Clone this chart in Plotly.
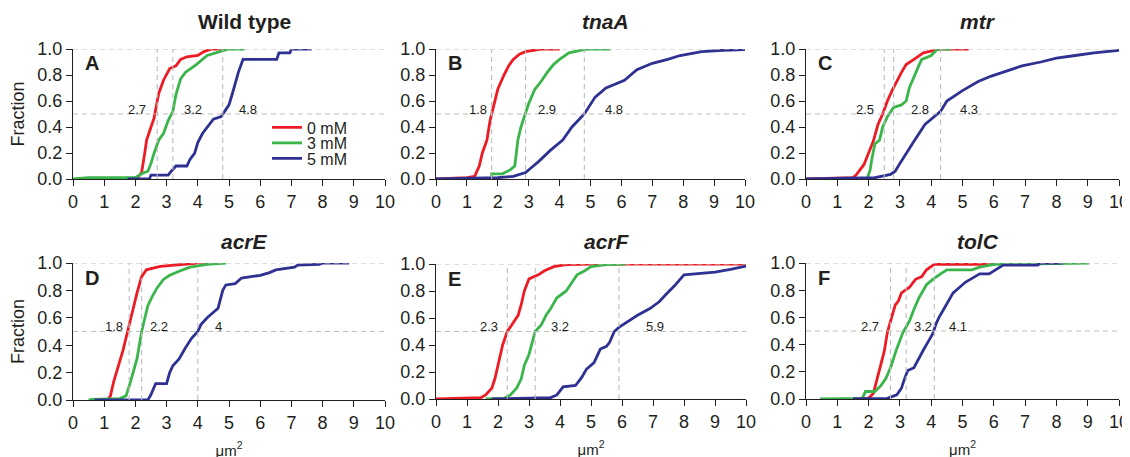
import plotly.graph_objects as go

# ---------------- data ----------------
panel_titles = ["Wild type", "<i>tnaA</i>", "<i>mtr</i>", "<i>acrE</i>", "<i>acrF</i>", "<i>tolC</i>"]
panel_letters = ["A", "B", "C", "D", "E", "F"]
series_names = ["0 mM", "3 mM", "5 mM"]
x_ticks = [0, 1, 2, 3, 4, 5, 6, 7, 8, 9, 10]
y_ticks = [0.0, 0.2, 0.4, 0.6, 0.8, 1.0]

# Panel A: Wild type
a_0_x = [1.1, 1.9, 2.1, 2.2, 2.3, 2.36, 2.5, 2.6, 2.7, 2.75, 2.9, 3.05, 3.1, 3.3, 3.45, 3.65, 4.0, 4.2, 4.45, 4.8]
a_0_y = [0, 0, 0.02, 0.05, 0.2, 0.3, 0.4, 0.47, 0.6, 0.66, 0.76, 0.82, 0.85, 0.87, 0.92, 0.94, 0.95, 0.98, 1.0, 1.0]
a_3_x = [0, 0.5, 2.0, 2.2, 2.4, 2.5, 2.6, 2.75, 2.9, 3.05, 3.2, 3.3, 3.45, 3.6, 3.95, 4.3, 4.7, 5.0, 5.5]
a_3_y = [0, 0.01, 0.01, 0.04, 0.06, 0.12, 0.2, 0.3, 0.35, 0.45, 0.52, 0.65, 0.77, 0.82, 0.88, 0.95, 0.98, 1.0, 1.0]
a_5_x = [1.75, 2.45, 2.5, 3.05, 3.15, 3.3, 3.65, 3.75, 3.9, 4.0, 4.15, 4.3, 4.5, 4.75, 4.85, 5.0, 5.1, 5.2, 5.3, 5.45, 6.53, 6.6, 6.95, 7.0, 7.65]
a_5_y = [0, 0, 0.03, 0.03, 0.06, 0.1, 0.1, 0.15, 0.2, 0.28, 0.35, 0.4, 0.46, 0.48, 0.52, 0.57, 0.65, 0.74, 0.82, 0.92, 0.92, 0.97, 0.97, 1.0, 1.0]

# Panel B: tnaA
b_0_x = [0, 1.0, 1.25, 1.4, 1.5, 1.65, 1.75, 1.8, 1.9, 2.0, 2.2, 2.35, 2.5, 2.7, 2.9, 3.4, 4.0]
b_0_y = [0, 0.01, 0.02, 0.1, 0.2, 0.3, 0.45, 0.5, 0.6, 0.69, 0.8, 0.87, 0.92, 0.96, 0.98, 1.0, 1.0]
b_3_x = [1.8, 1.8, 2.15, 2.4, 2.55, 2.6, 2.65, 2.75, 2.9, 3.0, 3.2, 3.4, 3.6, 3.8, 4.0, 4.3, 4.9, 5.65]
b_3_y = [0.02, 0.04, 0.04, 0.07, 0.1, 0.2, 0.3, 0.4, 0.5, 0.58, 0.69, 0.75, 0.82, 0.88, 0.92, 0.97, 1.0, 1.0]
b_5_x = [0, 2.0, 2.5, 2.9, 3.1, 3.3, 3.7, 4.1, 4.4, 4.8, 5.15, 5.5, 6.1, 6.5, 7.0, 7.5, 7.9, 8.6, 9.3, 10]
b_5_y = [0, 0.01, 0.02, 0.05, 0.09, 0.13, 0.22, 0.3, 0.4, 0.5, 0.63, 0.7, 0.76, 0.84, 0.89, 0.92, 0.95, 0.98, 0.99, 0.995]

# Panel C: mtr
c_0_x = [0, 1.0, 1.5, 1.6, 1.85, 2.0, 2.15, 2.3, 2.45, 2.6, 2.75, 3.05, 3.2, 3.45, 3.75, 4.3, 5.2]
c_0_y = [0, 0.005, 0.01, 0.03, 0.11, 0.2, 0.29, 0.42, 0.5, 0.6, 0.68, 0.82, 0.88, 0.92, 0.97, 1.0, 1.0]
c_3_x = [1.95, 2.0, 2.05, 2.1, 2.2, 2.35, 2.45, 2.6, 2.8, 3.05, 3.2, 3.3, 3.5, 3.6, 3.7, 4.0, 4.2, 4.6]
c_3_y = [0, 0.03, 0.07, 0.15, 0.27, 0.3, 0.4, 0.48, 0.55, 0.57, 0.6, 0.7, 0.82, 0.87, 0.92, 0.95, 1.0, 1.0]
c_5_x = [0, 1.5, 2.2, 2.7, 2.85, 3.0, 3.2, 3.45, 3.8, 4.3, 4.5, 5.0, 5.5, 5.9, 6.4, 6.9, 7.5, 8.0, 8.6, 9.2, 10]
c_5_y = [0, 0.005, 0.01, 0.035, 0.06, 0.12, 0.2, 0.29, 0.42, 0.52, 0.6, 0.68, 0.75, 0.79, 0.83, 0.87, 0.9, 0.93, 0.95, 0.97, 0.99]

# Panel D: acrE
d_0_x = [1.1, 1.2, 1.3, 1.45, 1.6, 1.75, 1.9, 2.05, 2.2, 2.35, 2.8, 3.4, 4.0, 4.3]
d_0_y = [0, 0.03, 0.13, 0.25, 0.36, 0.5, 0.65, 0.78, 0.9, 0.95, 0.975, 0.99, 1.0, 1.0]
d_3_x = [0.5, 0.6, 1.5, 1.7, 1.8, 1.9, 2.05, 2.2, 2.3, 2.4, 2.55, 2.7, 2.9, 3.1, 3.4, 3.75, 4.3, 4.9]
d_3_y = [0, 0.005, 0.01, 0.03, 0.1, 0.18, 0.3, 0.5, 0.6, 0.69, 0.76, 0.82, 0.88, 0.91, 0.94, 0.97, 0.99, 1.0]
d_5_x = [0.7, 2.4, 2.5, 2.6, 2.65, 3.0, 3.1, 3.2, 3.4, 3.6, 3.8, 4.0, 4.1, 4.3, 4.5, 4.65, 4.8, 4.9, 5.2, 5.4, 6.0, 6.3, 6.5, 6.8, 7.1, 7.2, 7.9, 8.0, 8.85]
d_5_y = [0, 0, 0.04, 0.1, 0.12, 0.12, 0.2, 0.25, 0.3, 0.38, 0.45, 0.5, 0.55, 0.6, 0.64, 0.67, 0.8, 0.84, 0.85, 0.89, 0.91, 0.93, 0.95, 0.96, 0.97, 0.985, 0.99, 1.0, 1.0]

# Panel E: acrF
e_0_x = [0, 1.0, 1.45, 1.6, 1.8, 1.9, 2.0, 2.15, 2.3, 2.5, 2.65, 2.75, 2.85, 3.0, 3.3, 3.5, 3.8, 4.2, 5.0, 10]
e_0_y = [0, 0.005, 0.01, 0.03, 0.08, 0.15, 0.25, 0.4, 0.5, 0.57, 0.62, 0.7, 0.8, 0.89, 0.92, 0.95, 0.98, 0.995, 1.0, 1.0]
e_3_x = [1.6, 2.2, 2.4, 2.6, 2.75, 2.85, 3.0, 3.1, 3.2, 3.4, 3.55, 3.7, 3.9, 4.2, 4.4, 4.55, 4.8, 5.0, 5.5, 6.1]
e_3_y = [0, 0.005, 0.03, 0.08, 0.15, 0.25, 0.33, 0.42, 0.5, 0.55, 0.62, 0.67, 0.75, 0.8, 0.87, 0.92, 0.95, 0.98, 0.995, 1.0]
e_5_x = [1.8, 3.1, 3.7, 3.9, 4.1, 4.5, 4.7, 4.85, 5.1, 5.3, 5.5, 5.6, 5.75, 5.9, 6.15, 6.5, 6.9, 7.2, 7.4, 7.7, 8.0, 8.5, 9.0, 9.5, 10]
e_5_y = [0, 0.005, 0.01, 0.03, 0.09, 0.1, 0.16, 0.22, 0.27, 0.37, 0.39, 0.42, 0.5, 0.53, 0.57, 0.62, 0.67, 0.72, 0.77, 0.84, 0.92, 0.93, 0.94, 0.96, 0.985]

# Panel F: tolC
f_0_x = [1.5, 2.0, 2.15, 2.25, 2.4, 2.5, 2.6, 2.7, 2.85, 2.95, 3.05, 3.3, 3.5, 3.7, 3.85, 4.1, 6.0, 6.1, 6.7]
f_0_y = [0, 0.005, 0.04, 0.13, 0.25, 0.35, 0.49, 0.57, 0.69, 0.72, 0.78, 0.82, 0.88, 0.9, 0.95, 0.99, 0.99, 1.0, 1.0]
f_3_x = [0.45, 1.8, 1.9, 2.2, 2.4, 2.55, 2.7, 2.9, 3.1, 3.3, 3.45, 3.6, 3.85, 4.05, 4.3, 4.5, 5.3, 5.55, 6.0, 7.0, 8.0, 9.05]
f_3_y = [0, 0.005, 0.055, 0.055, 0.1, 0.15, 0.23, 0.37, 0.49, 0.57, 0.66, 0.74, 0.84, 0.88, 0.92, 0.95, 0.95, 0.97, 0.99, 0.995, 1.0, 1.0]
f_5_x = [1.5, 2.6, 2.9, 3.05, 3.15, 3.25, 3.45, 3.6, 3.75, 3.9, 4.05, 4.15, 4.25, 4.4, 4.5, 4.7, 4.9, 5.1, 5.4, 5.55, 5.85, 6.05, 6.3, 7.4, 7.5, 8.2]
f_5_y = [0, 0.005, 0.03, 0.08, 0.15, 0.21, 0.23, 0.3, 0.36, 0.42, 0.48, 0.55, 0.6, 0.66, 0.7, 0.78, 0.82, 0.86, 0.9, 0.92, 0.92, 0.95, 0.985, 0.985, 1.0, 1.0]

# medians (dashed reference lines + labels)
medians_a = [2.7, 3.2, 4.8]
medians_b = [1.8, 2.9, 4.8]
medians_c = [2.5, 2.8, 4.3]
medians_d = [1.8, 2.2, 4.0]
medians_e = [2.3, 3.2, 5.9]
medians_f = [2.7, 3.2, 4.1]
median_labels_a = ["2.7", "3.2", "4.8"]
median_labels_b = ["1.8", "2.9", "4.8"]
median_labels_c = ["2.5", "2.8", "4.3"]
median_labels_d = ["1.8", "2.2", "4"]
median_labels_e = ["2.3", "3.2", "5.9"]
median_labels_f = ["2.7", "3.2", "4.1"]
ref_levels = [0.5, 1.0]

panels = [
    ([(a_0_x, a_0_y), (a_3_x, a_3_y), (a_5_x, a_5_y)], medians_a, median_labels_a),
    ([(b_0_x, b_0_y), (b_3_x, b_3_y), (b_5_x, b_5_y)], medians_b, median_labels_b),
    ([(c_0_x, c_0_y), (c_3_x, c_3_y), (c_5_x, c_5_y)], medians_c, median_labels_c),
    ([(d_0_x, d_0_y), (d_3_x, d_3_y), (d_5_x, d_5_y)], medians_d, median_labels_d),
    ([(e_0_x, e_0_y), (e_3_x, e_3_y), (e_5_x, e_5_y)], medians_e, median_labels_e),
    ([(f_0_x, f_0_y), (f_3_x, f_3_y), (f_5_x, f_5_y)], medians_f, median_labels_f),
]

# ---------------- layout / style ----------------
W, H = 1130, 457
PAGE_OFF = 8  # the page body margin shifts the figure by this many px
colors = ["#ED1C24", "#39B54A", "#2E3192"]
ink = "#231F20"
dash_col = "#BDBDBD"
FONT = "Liberation Sans, Arial, sans-serif"

# on-screen pixel geometry of each panel: (x at 0, x at 10, y at 1.0, y at 0)
geom = [
    (73, 385, 49, 179), (436, 745, 49, 179), (806, 1119, 49, 179),
    (73, 385, 263, 400), (436, 746, 264, 399), (806, 1119, 263, 399),
]
# median label horizontal centres (data units)
label_x = [
    [2.05, 3.85, 5.6], [1.36, 3.6, 5.76], [1.9, 3.64, 5.2],
    [1.3, 2.75, 4.65], [1.7, 4.0, 7.05], [2.03, 3.75, 4.85],
]
title_y_px = [22, 22, 22, 241, 241, 241]


def px_x(p):
    return (p - PAGE_OFF) / W


def px_y(p):
    return 1 - (p - PAGE_OFF) / H


fig = go.Figure()
annotations = []

for i, (curves, meds, mlabels) in enumerate(panels):
    k = "" if i == 0 else str(i + 1)
    xa, ya = "x" + k, "y" + k
    x0, x10, y1, y0 = geom[i]
    # curves
    for j, (cx, cy) in enumerate(curves):
        fig.add_trace(go.Scatter(
            x=cx, y=cy, mode="lines", xaxis=xa, yaxis=ya,
            line=dict(color=colors[j], width=2.8),
            cliponaxis=False, hoverinfo="skip",
            name=series_names[j], showlegend=(i == 0),
            legend=["legend", "legend2", "legend3"][j],
        ))
    # dashed reference lines
    for lv in ref_levels:
        fig.add_trace(go.Scatter(
            x=[x_ticks[0], x_ticks[-1]], y=[lv, lv], mode="lines", xaxis=xa, yaxis=ya,
            line=dict(color=dash_col, width=1.1, dash="5px,4px"),
            cliponaxis=False, showlegend=False, hoverinfo="skip"))
    for m in meds:
        fig.add_trace(go.Scatter(
            x=[m, m], y=[0, 1], mode="lines", xaxis=xa, yaxis=ya,
            line=dict(color=dash_col, width=1.1, dash="5px,4px"),
            cliponaxis=False, showlegend=False, hoverinfo="skip"))
    # median labels
    for lx, lt in zip(label_x[i], mlabels):
        annotations.append(dict(
            x=lx, y=0.535, xref=xa, yref=ya, text=lt, showarrow=False,
            font=dict(family=FONT, size=13, color=ink), xanchor="center", yanchor="middle"))
    # panel letter
    annotations.append(dict(
        x=0.33, y=0.89, xref=xa, yref=ya, text="<b>%s</b>" % panel_letters[i], showarrow=False,
        font=dict(family=FONT, size=20, color=ink), xanchor="left", yanchor="middle"))
    # panel title (in domain units so it may sit above the data range)
    annotations.append(dict(
        x=5.5, y=(y0 - title_y_px[i]) / (y0 - y1), xref=xa, yref=ya + " domain",
        text="<b>%s</b>" % panel_titles[i],
        showarrow=False, font=dict(family=FONT, size=21, color=ink),
        xanchor="center", yanchor="middle"))

    axis_common = dict(
        showline=True, linecolor=ink, linewidth=1.4, ticks="outside", ticklen=6,
        tickwidth=1.3, tickcolor=ink, showgrid=False, zeroline=False,
        tickfont=dict(family=FONT, size=18, color=ink), layer="below traces",
        fixedrange=True, automargin=False,
    )
    xdict = dict(domain=[px_x(x0), px_x(x10)], range=[0, 10], tickvals=x_ticks,
                 anchor=ya, **axis_common)
    if i >= 3:
        xdict["title"] = dict(text="μm<sup>2</sup>", font=dict(family=FONT, size=15, color=ink),
                              standoff=13)
    ydict = dict(domain=[px_y(y0), px_y(y1)], range=[0, 1], tickvals=y_ticks,
                 tickformat=".1f", anchor=xa, **axis_common)
    if i in (0, 3):
        ydict["title"] = dict(text="Fraction", font=dict(family=FONT, size=18, color=ink),
                              standoff=8)
    fig.update_layout(**{"xaxis" + k: xdict, "yaxis" + k: ydict})

legend_common = dict(
    bgcolor="rgba(0,0,0,0)", borderwidth=0, font=dict(family=FONT, size=16, color=ink),
    xanchor="left", yanchor="middle", x=px_x(267), itemclick=False, itemdoubleclick=False,
    tracegroupgap=0,
)
fig.update_layout(
    width=W, height=H, margin=dict(l=0, r=0, t=0, b=0, autoexpand=False),
    paper_bgcolor="white", plot_bgcolor="white",
    font=dict(family=FONT, color=ink),
    annotations=annotations,
    legend=dict(y=px_y(127.5), **legend_common),
    legend2=dict(y=px_y(143), **legend_common),
    legend3=dict(y=px_y(158.5), **legend_common),
)

fig.write_html("out.html", config={"displayModeBar": False})
